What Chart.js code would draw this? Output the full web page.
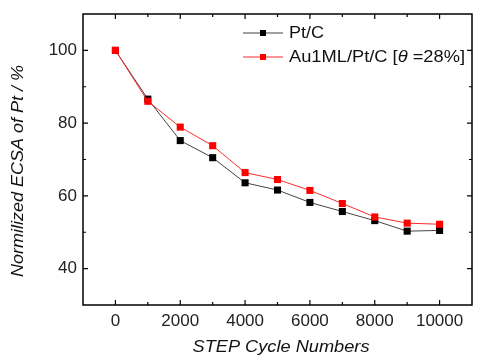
<!DOCTYPE html>
<html><head><meta charset="utf-8">
<script src="https://cdn.jsdelivr.net/npm/chart.js@4"></script>
<style>html,body{margin:0;padding:0;background:#fff}#w{width:477px;height:356px}</style>
</head><body><div id="w"><canvas id="c"></canvas></div>
<script>
const cycles = [0,1000,2000,3000,4000,5000,6000,7000,8000,9000,10000];
const ptC = [100,86.6,75.2,70.5,63.6,61.6,58.2,55.7,53.2,50.3,50.5];
const auPtC = [100,86.0,78.9,73.8,66.4,64.5,61.5,57.9,54.2,52.5,52.2];
const xTicks = [0,2000,4000,6000,8000,10000];
const xMinor = [1000,3000,5000,7000,9000];
const yTicks = [40,60,80,100];
const yMinor = [50,70,90];
const seriesNames = ['Pt/C','Au1ML/Pt/C [\u03b8 =28%]'];
const xTitle = 'STEP Cycle Numbers';
const yTitle = 'Normilized ECSA of Pt / %';

const FONT = '"Liberation Sans", Arial, sans-serif';

function stretchText(ctx, parts, x, y, targetW){
  let w=0;
  parts.forEach(p=>{ctx.font=(p[1]?'italic ':'')+'16px '+FONT; w+=ctx.measureText(p[0]).width;});
  const sx=targetW/w;
  ctx.save(); ctx.translate(x,y); ctx.scale(sx,1);
  let cx=0;
  parts.forEach(p=>{ctx.font=(p[1]?'italic ':'')+'16px '+FONT; ctx.fillText(p[0],cx,0); cx+=ctx.measureText(p[0]).width;});
  ctx.restore();
}

const frame = {
  id:'frame',
  afterDraw(chart){
    const {ctx, chartArea:a, scales:{x,y}} = chart;
    ctx.save();
    ctx.strokeStyle='#000'; ctx.lineWidth=1.5;
    ctx.strokeRect(a.left, a.top, a.right-a.left, a.bottom-a.top);
    ctx.lineWidth=1.2;
    const tk=(v,len,isX)=>{
      if(isX){const p=x.getPixelForValue(v);
        ctx.beginPath();ctx.moveTo(p,a.bottom);ctx.lineTo(p,a.bottom-len);
        ctx.moveTo(p,a.top);ctx.lineTo(p,a.top+len);ctx.stroke();}
      else{const p=y.getPixelForValue(v);
        ctx.beginPath();ctx.moveTo(a.left,p);ctx.lineTo(a.left+len,p);
        ctx.moveTo(a.right,p);ctx.lineTo(a.right-len,p);ctx.stroke();}
    };
    xTicks.forEach(v=>tk(v,5,true)); xMinor.forEach(v=>tk(v,3,true));
    yTicks.forEach(v=>tk(v,5,false)); yMinor.forEach(v=>tk(v,3,false));
    ctx.fillStyle='#111';
    ctx.textBaseline='middle'; ctx.textAlign='left';
    const xw=177;
    stretchText(ctx,[[xTitle,true]],281-xw/2,348,xw);
    ctx.save(); ctx.translate(19,171); ctx.rotate(-Math.PI/2);
    stretchText(ctx,[[yTitle,true]],-106,0,212);
    ctx.restore();
    const ds=chart.data.datasets;
    const rows={[seriesNames[0]]:33,[seriesNames[1]]:57};
    ds.forEach(d=>{
      const yy=rows[d.label];
      ctx.strokeStyle=d.borderColor; ctx.lineWidth=1;
      ctx.beginPath();ctx.moveTo(243,yy);ctx.lineTo(283,yy);ctx.stroke();
      ctx.fillStyle=d.pointBackgroundColor;
      ctx.fillRect(263-3,yy-3,6,6);
      ctx.fillStyle='#111';
      if(d.label===seriesNames[0]) stretchText(ctx,[[d.label,false]],289,yy+1,35);
      else {
        const i=d.label.indexOf('\u03b8');
        stretchText(ctx,[[d.label.slice(0,i),false],['\u03b8',true],[d.label.slice(i+1),false]],289,yy+1,176);
      }
    });
    ctx.restore();
  }
};

new Chart(document.getElementById('c'),{
  type:'line',
  data:{datasets:[
    {label:seriesNames[1],data:cycles.map((c,i)=>({x:c,y:auPtC[i]})),borderColor:'#ff2a2a',borderWidth:1,
     pointStyle:'rect',pointRadius:5,pointBackgroundColor:'#ff0000',pointBorderColor:'#ff0000',pointBorderWidth:0,tension:0},
    {label:seriesNames[0],data:cycles.map((c,i)=>({x:c,y:ptC[i]})),borderColor:'#444',borderWidth:1,
     pointStyle:'rect',pointRadius:5,pointBackgroundColor:'#000',pointBorderColor:'#000',pointBorderWidth:0,tension:0}
  ]},
  options:{
    responsive:true,maintainAspectRatio:false,animation:false,
    layout:{padding:{top:14,right:1,left:0,bottom:0}},
    plugins:{legend:{display:false},tooltip:{enabled:false}},
    scales:{
      x:{type:'linear',min:-1000,max:11000,
        afterBuildTicks:s=>{s.ticks=xTicks.map(v=>({value:v}));},
        afterFit:s=>{s.height=51;s.paddingLeft=0;s.paddingRight=0;},
        grid:{display:false,drawTicks:false},border:{display:false},
        ticks:{font:{family:FONT,size:17},color:'#222',padding:6,maxRotation:0,
          callback:v=>String(v)}},
      y:{min:30,max:110,
        afterBuildTicks:s=>{s.ticks=yTicks.map(v=>({value:v}));},
        afterFit:s=>{s.width=83;s.paddingTop=0;s.paddingBottom=0;},
        grid:{display:false,drawTicks:false},border:{display:false},
        ticks:{font:{family:FONT,size:17},color:'#222',padding:6,callback:v=>String(v)}}
    }
  },
  plugins:[frame]
});
</script></body></html>
